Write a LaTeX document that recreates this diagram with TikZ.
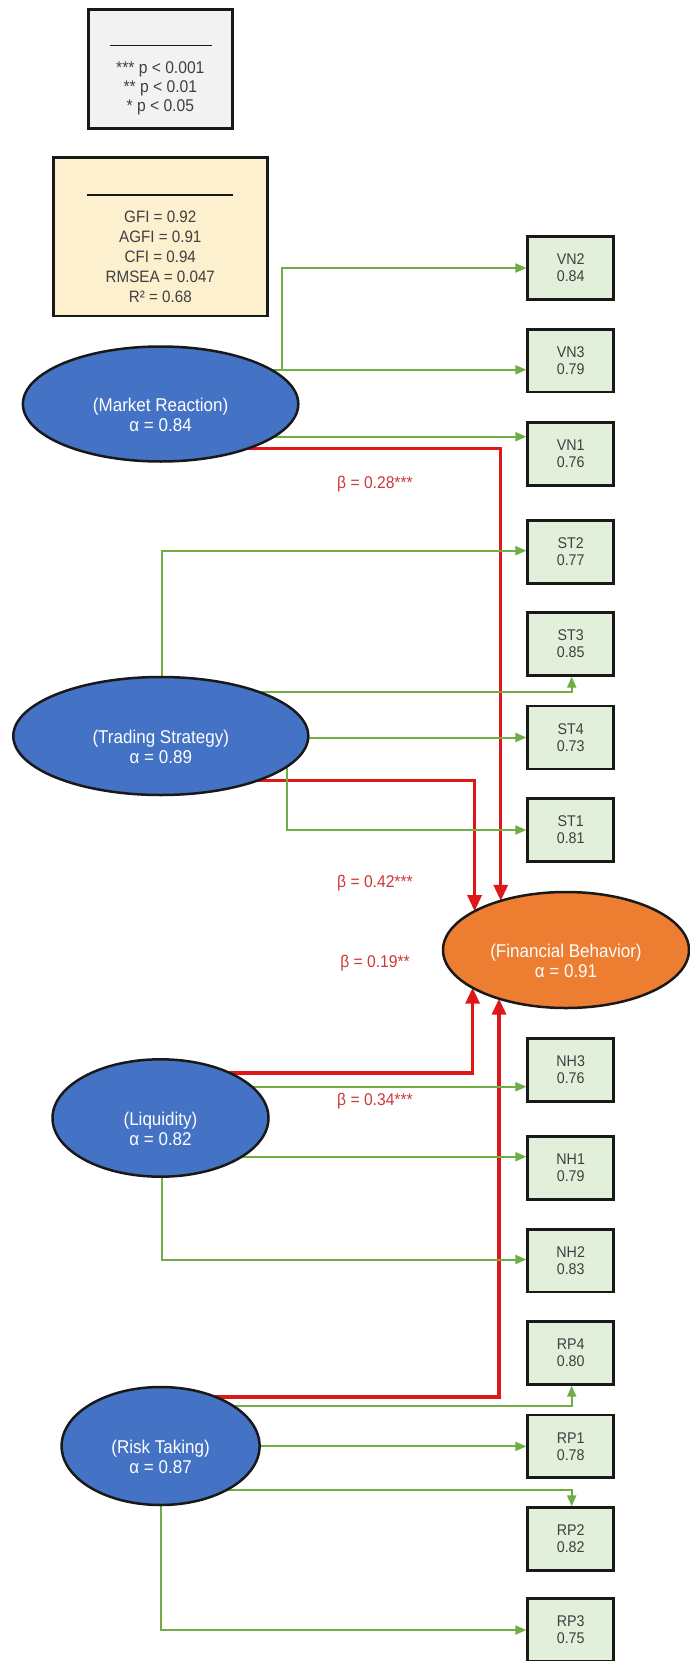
\documentclass[tikz,border=0pt]{standalone}
\usepackage{fontspec}
\setmainfont{Liberation Sans}
\newfontfamily\cf[FakeStretch=0.92]{Liberation Sans}
\usetikzlibrary{arrows.meta,shapes.geometric,calc}
\pgfdeclarelayer{bg}
\pgfsetlayers{bg,main}
\definecolor{lvblue}{RGB}{68,114,196}
\definecolor{fborange}{RGB}{237,125,49}
\definecolor{grn}{RGB}{112,173,71}
\definecolor{rd}{RGB}{222,24,24}
\definecolor{boxfill}{RGB}{226,239,218}
\definecolor{fitfill}{RGB}{253,240,206}
\definecolor{legfill}{RGB}{242,242,242}
\definecolor{txt}{RGB}{64,64,64}
\definecolor{edge}{RGB}{25,25,25}
\definecolor{betacol}{RGB}{205,55,55}
\begin{document}
\begin{tikzpicture}[x=1pt,y=-1pt,
 latent/.style={ellipse,draw=edge,line width=2.5pt,inner sep=0pt,outer sep=0pt},
 lattext/.style={text=white,align=center,font=\cf\fontsize{18.5}{20}\selectfont},
 ind/.style={rectangle,draw=edge,line width=2.6pt,fill=boxfill,minimum width=86pt,minimum height=62.7pt,inner sep=0pt,align=center,text=txt,font=\cf\fontsize{15.5}{17}\selectfont},
 legbox/.style={rectangle,draw=edge,line width=2.6pt,inner sep=0pt},
 legtext/.style={align=center,text=txt,inner sep=0pt},
 rulestyle/.style={draw=edge,line width=1.6pt},
 gl/.style={draw=grn,line width=2pt,-{Triangle[width=9pt,length=11pt]}},
 rl/.style={draw=rd,line width=3.2pt,-{Triangle[width=14pt,length=16pt]}},
 beta/.style={text=betacol,inner sep=0pt,font=\cf\fontsize{17}{18}\selectfont},
]
\useasboundingbox (0,0) rectangle (690,1661);

% legend boxes
\node[legbox,fill=legfill,minimum width=144pt,minimum height=119pt] (leg) at (160.3,68.8) {};
\draw[rulestyle] ($(leg.north)+(-50.5,37.4)$) -- ($(leg.north)+(51.5,37.4)$);
\node[legtext,font=\cf\fontsize{17}{19}\selectfont] (legt) at ($(leg.center)+(0,19.5)$) {*** p < 0.001\\** p < 0.01\\* p < 0.05};

\node[legbox,fill=fitfill,minimum width=214pt,minimum height=158.7pt] (fit) at (160.3,236.7) {};
\draw[rulestyle] ($(fit.north)+(-73,38.7)$) -- ($(fit.north)+(73,38.7)$);
\node[legtext,font=\cf\fontsize{16.5}{20}\selectfont] (fitt) at ($(fit.center)+(0,20)$) {GFI = 0.92\\AGFI = 0.91\\CFI = 0.94\\RMSEA = 0.047\\R² = 0.68};

% indicators
\node[ind] (vn2) at (570.7,268) {VN2\\0.84};
\node[ind] (vn3) at (570.7,360.8) {VN3\\0.79};
\node[ind] (vn1) at (570.7,454) {VN1\\0.76};
\node[ind] (st2) at (570.7,552) {ST2\\0.77};
\node[ind] (st3) at (570.7,644) {ST3\\0.85};
\node[ind] (st4) at (570.7,737.5) {ST4\\0.73};
\node[ind] (st1) at (570.7,830) {ST1\\0.81};
\node[ind] (nh3) at (570.7,1070) {NH3\\0.76};
\node[ind] (nh1) at (570.7,1168) {NH1\\0.79};
\node[ind] (nh2) at (570.7,1260.8) {NH2\\0.83};
\node[ind] (rp4) at (570.7,1353) {RP4\\0.80};
\node[ind] (rp1) at (570.7,1446.4) {RP1\\0.78};
\node[ind] (rp2) at (570.7,1539) {RP2\\0.82};
\node[ind] (rp3) at (570.7,1630) {RP3\\0.75};

% latent variables
\node[latent,fill=lvblue,minimum width=275.4pt,minimum height=115pt,
  label={[lattext,yshift=-11pt]center:{(Market Reaction)\\α = 0.84}}] (mr) at (160.6,404) {};
\node[latent,fill=lvblue,minimum width=295pt,minimum height=118pt,
  label={[lattext,yshift=-11pt]center:{(Trading Strategy)\\α = 0.89}}] (ts) at (160.8,736) {};
\node[latent,fill=lvblue,minimum width=216pt,minimum height=117.4pt,
  label={[lattext,yshift=-11pt]center:{(Liquidity)\\α = 0.82}}] (lq) at (160.5,1118) {};
\node[latent,fill=lvblue,minimum width=198pt,minimum height=118pt,
  label={[lattext,yshift=-11pt]center:{(Risk Taking)\\α = 0.87}}] (rt) at (160.6,1446) {};
\node[latent,fill=fborange,minimum width=246pt,minimum height=116pt,
  label={[lattext,yshift=-11pt]center:{(Financial Behavior)\\α = 0.91}}] (fb) at (566,950) {};

% entry points
\coordinate (vn2in) at (vn2.west);
\coordinate (vn3in) at ([yshift=-9pt]vn3.west);
\coordinate (vn1in) at ([yshift=17.3pt]vn1.west);
\coordinate (st2in) at ([yshift=1.3pt]st2.west);
\coordinate (st3in) at ([xshift=1pt]st3.south);
\coordinate (st4in) at (st4.west);
\coordinate (st1in) at (st1.west);
\coordinate (nh3in) at ([yshift=-16.7pt]nh3.west);
\coordinate (nh1in) at ([yshift=11.3pt]nh1.west);
\coordinate (nh2in) at ([yshift=1.3pt]nh2.west);
\coordinate (rp4in) at ([xshift=1pt]rp4.south);
\coordinate (rp1in) at (rp1.west);
\coordinate (rp2in) at ([xshift=1pt]rp2.north);
\coordinate (rp3in) at (rp3.west);

\begin{pgfonlayer}{bg}
% structural paths
\draw[rl] ([yshift=-44.3pt]mr.center) -| (fb.143.1);
\draw[rl] ([yshift=-44.5pt]ts.center) -| (fb.157.95);
\draw[rl] ([yshift=45pt]lq.center) -| (fb.202.05);
\draw[rl] ([yshift=49pt]rt.center) -| (fb.216.9);
% measurement paths
\coordinate (mrb) at ($(mr.center |- vn3in)+(121,0)$);
\draw[gl] (mr.center |- vn3in) -- (vn3in);
\draw[gl] (mrb) |- (vn2in);
\draw[gl] (mr.center |- vn1in) -- (vn1in);
\draw[gl] ([xshift=1.5pt]ts.center) |- (st2in);
\draw[gl] ([yshift=44.3pt]ts.center) -| (st3in);
\draw[gl] (ts.center |- st4in) -- (st4in);
\draw[gl] ([xshift=126pt]ts.center) |- (st1in);
\draw[gl] (lq.center |- nh3in) -- (nh3in);
\draw[gl] (lq.center |- nh1in) -- (nh1in);
\draw[gl] ([xshift=1.8pt]lq.center) |- (nh2in);
\draw[gl] ([yshift=40.3pt]rt.center) -| (rp4in);
\draw[gl] (rt.center |- rp1in) -- (rp1in);
\draw[gl] ([yshift=-44pt]rt.center) -| (rp2in);
\draw[gl] (rt.center) |- (rp3in);
\end{pgfonlayer}

% path coefficients
\node[beta] (b1) at (375,484) {β = 0.28***};
\node[beta] (b2) at (375,883) {β = 0.42***};
\node[beta] (b3) at (375,963) {β = 0.19**};
\node[beta] (b4) at (375,1101) {β = 0.34***};
\end{tikzpicture}
\end{document}
